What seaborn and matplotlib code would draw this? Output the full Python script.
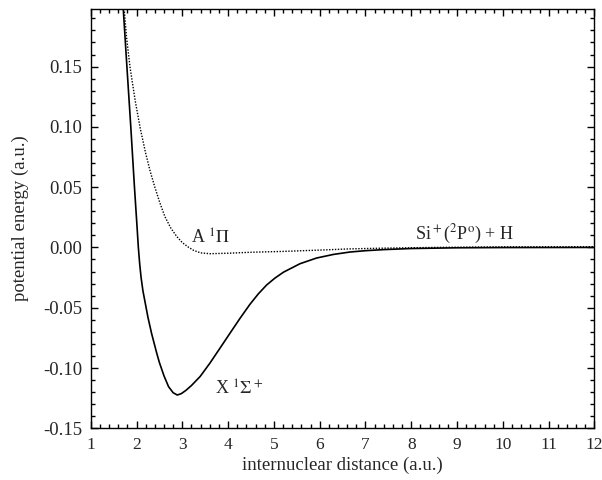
import matplotlib
matplotlib.use("Agg")
import matplotlib.pyplot as plt
import seaborn as sns
import pandas as pd
from matplotlib.ticker import MultipleLocator, FormatStrFormatter

# X 1Sigma+ state (solid)
r_sigma = [1.71, 1.79, 1.875, 1.955, 2.01, 2.04, 2.07, 2.10, 2.14, 2.19, 2.25, 2.33,
           2.44, 2.50, 2.60, 2.70, 2.80, 2.89, 2.98, 3.08, 3.20, 3.39, 3.60, 3.82,
           4.04, 4.26, 4.48, 4.66, 4.84, 5.02, 5.21, 5.57, 5.93, 6.30, 6.66, 7.0, 7.4,
           8.0, 9.0, 10.0, 12.0]
e_sigma = [0.198, 0.150, 0.100, 0.050, 0.018, 0.0, -0.014, -0.025, -0.036, -0.046,
           -0.058, -0.0715, -0.0875, -0.0955, -0.1065, -0.1155, -0.1205, -0.1224,
           -0.1212, -0.1185, -0.1145, -0.1070, -0.0961, -0.0837, -0.0712, -0.0588,
           -0.0470, -0.0385, -0.0312, -0.0255, -0.0205, -0.0135, -0.0088, -0.0058,
           -0.0038, -0.0027, -0.0018, -0.0009, -0.0003, -0.0001, 0.0]

# A 1Pi state (dotted)
r_pi = [1.73, 1.78, 1.86, 1.97, 2.08, 2.20, 2.30, 2.40, 2.51, 2.62, 2.75, 2.88, 3.00,
        3.13, 3.25, 3.40, 3.60, 4.0, 4.5, 5.2, 6.0, 6.66, 7.4, 8.5, 10.0, 12.0]
e_pi = [0.198, 0.175, 0.149, 0.122, 0.099, 0.078, 0.063, 0.050, 0.037, 0.0255, 0.016,
        0.009, 0.004, 0.0003, -0.0025, -0.0045, -0.0052, -0.0048, -0.0040, -0.0033,
        -0.0022, -0.0012, -0.0006, 0.0, 0.0005, 0.0006]

sns.set_style("ticks")
plt.rcParams['font.family'] = ['Liberation Serif', 'DejaVu Serif']
plt.rcParams['mathtext.fontset'] = 'stix'
plt.rcParams['axes.unicode_minus'] = False

fig = plt.figure(figsize=(6.02, 4.8), dpi=100)
ax = fig.add_axes([0.1507, 0.1077, 0.8368, 0.8742])

df_s = pd.DataFrame({"r": r_sigma, "e": e_sigma})
df_p = pd.DataFrame({"r": r_pi, "e": e_pi})
sns.lineplot(data=df_s, x="r", y="e", ax=ax, color="black", lw=1.2, estimator=None)
sns.lineplot(data=df_p, x="r", y="e", ax=ax, color="black", lw=1.0, ls=(0, (1, 1.1)),
             estimator=None)

ax.set_xlim(1, 12)
ax.set_ylim(-0.15, 0.198)
ax.xaxis.set_major_locator(MultipleLocator(1))
ax.xaxis.set_minor_locator(MultipleLocator(0.2))
ax.yaxis.set_major_locator(MultipleLocator(0.05))
ax.yaxis.set_minor_locator(MultipleLocator(0.01))
ax.yaxis.set_major_formatter(FormatStrFormatter('%.2f'))
ax.tick_params(which='both', direction='in', top=True, right=True,
               width=1.0, color='black')
ax.tick_params(axis='y', labelsize=13.5)
ax.tick_params(axis='x', labelsize=12.5)
ax.tick_params(which='major', length=5, pad=6)
ax.tick_params(which='minor', length=2.8)
for s in ax.spines.values():
    s.set_linewidth(1.0)
    s.set_color('black')

ax.set_xlabel("internuclear distance (a.u.)", fontsize=13.5, labelpad=3)
ax.set_ylabel("potential energy (a.u.)", fontsize=13.5, labelpad=10)

ax.text(3.19, 0.0034, r"A $^1\Pi$", fontsize=13)
ax.text(3.71, -0.1224, r"X $^1\Sigma^+$", fontsize=13)
ax.text(8.08, 0.0067, r"Si$^+$($^2$P$^{\rm o}$) + H", fontsize=13)

fig.savefig("out.png", dpi=100)
